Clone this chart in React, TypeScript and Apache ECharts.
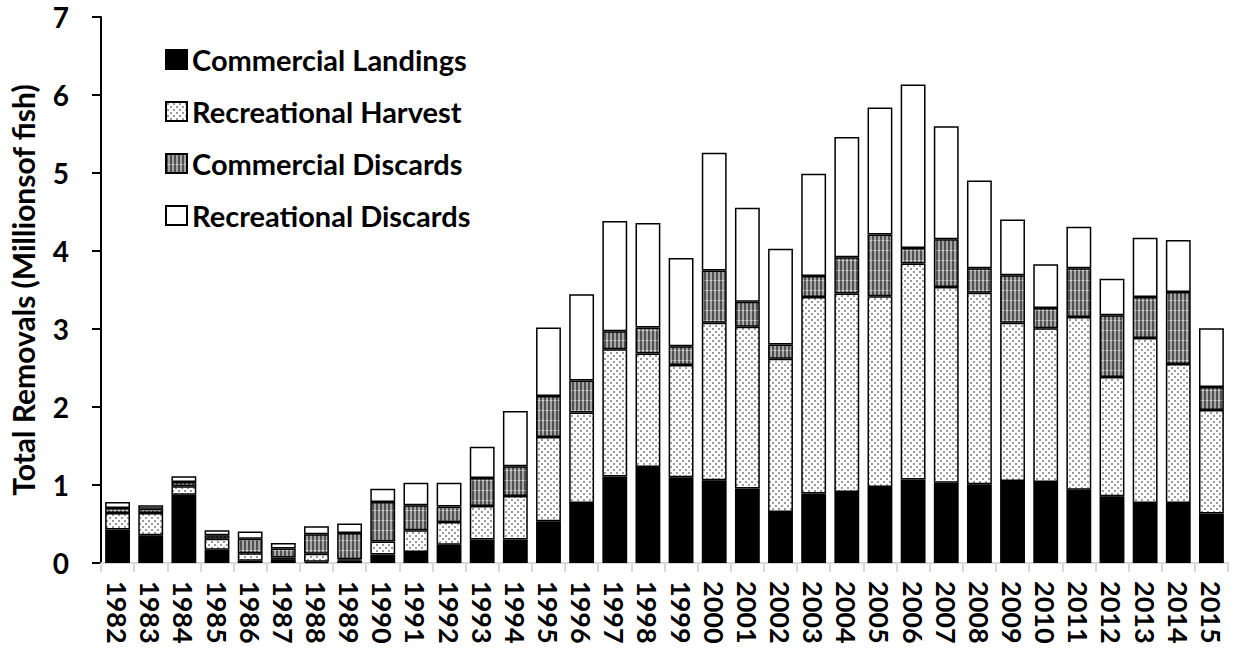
import React, { useEffect, useRef } from 'react';
import * as echarts from 'echarts';

const years = [
  '1982', '1983', '1984', '1985', '1986', '1987', '1988', '1989', '1990', '1991',
  '1992', '1993', '1994', '1995', '1996', '1997', '1998', '1999', '2000', '2001',
  '2002', '2003', '2004', '2005', '2006', '2007', '2008', '2009', '2010', '2011',
  '2012', '2013', '2014', '2015',
];

const commercialLandings = [
  0.43, 0.355, 0.876, 0.17, 0.03, 0.04, 0.015, 0.03, 0.11, 0.14,
  0.235, 0.30, 0.30, 0.535, 0.77, 1.11, 1.23, 1.10, 1.06, 0.955,
  0.655, 0.89, 0.91, 0.975, 1.07, 1.03, 1.01, 1.05, 1.04, 0.94,
  0.855, 0.77, 0.77, 0.635,
];

const recreationalHarvest = [
  0.21, 0.286, 0.107, 0.14, 0.095, 0.03, 0.105, 0.017, 0.167, 0.28,
  0.29, 0.43, 0.56, 1.08, 1.16, 1.63, 1.455, 1.44, 2.02, 2.075,
  1.965, 2.52, 2.545, 2.445, 2.77, 2.51, 2.455, 2.03, 1.97, 2.215,
  1.53, 2.115, 1.78, 1.325,
];

const commercialDiscards = [
  0.065, 0.056, 0.055, 0.045, 0.185, 0.115, 0.25, 0.338, 0.504, 0.32,
  0.20, 0.36, 0.38, 0.525, 0.41, 0.23, 0.335, 0.24, 0.67, 0.32,
  0.18, 0.27, 0.465, 0.79, 0.20, 0.61, 0.315, 0.61, 0.26, 0.625,
  0.79, 0.525, 0.925, 0.295,
];

const recreationalDiscards = [
  0.077, 0.042, 0.073, 0.064, 0.095, 0.07, 0.10, 0.12, 0.171, 0.29,
  0.305, 0.40, 0.71, 0.88, 1.105, 1.415, 1.34, 1.13, 1.51, 1.205,
  1.23, 1.31, 1.54, 1.63, 2.095, 1.45, 1.125, 0.715, 0.56, 0.53,
  0.47, 0.76, 0.665, 0.755,
];

const seriesNames = [
  'Commercial Landings',
  'Recreational Harvest',
  'Commercial Discards',
  'Recreational Discards',
];

const FONT = 'Lato, "Open Sans", sans-serif';

function makeDots(): HTMLCanvasElement {
  const c = document.createElement('canvas');
  c.width = 6;
  c.height = 6;
  const g = c.getContext('2d')!;
  g.fillStyle = '#ffffff';
  g.fillRect(0, 0, 6, 6);
  g.fillStyle = '#9a9a9a';
  g.fillRect(1, 1, 2, 2);
  g.fillRect(4, 4, 2, 2);
  return c;
}

function makeStripes(): HTMLCanvasElement {
  const c = document.createElement('canvas');
  c.width = 4;
  c.height = 10;
  const g = c.getContext('2d')!;
  g.fillStyle = '#4f4f4f';
  g.fillRect(0, 0, 2, 10);
  g.fillStyle = '#a6a6a6';
  g.fillRect(2, 0, 2, 10);
  g.fillStyle = '#8a8a8a';
  g.fillRect(0, 0, 2, 1);
  g.fillStyle = '#d0d0d0';
  g.fillRect(2, 0, 2, 1);
  return c;
}

export default function App() {
  const ref = useRef<HTMLDivElement>(null);

  useEffect(() => {
    if (!ref.current) return;
    const chart = echarts.init(ref.current, undefined, { renderer: 'svg' });
    const dots = makeDots();
    const stripes = makeStripes();

    const fills: any[] = [
      '#000000',
      { image: dots, repeat: 'repeat' },
      { image: stripes, repeat: 'repeat' },
      '#ffffff',
    ];
    const datasets = [commercialLandings, recreationalHarvest, commercialDiscards, recreationalDiscards];

    const option: any = {
      animation: false,
      backgroundColor: '#ffffff',
      grid: { left: 101, right: 8, top: 17, bottom: 85, containLabel: false },
      legend: {
        orient: 'vertical',
        left: 160,
        top: 40,
        itemWidth: 21,
        itemHeight: 19,
        itemGap: 23,
        selectedMode: false,
        icon: 'rect',
        textStyle: {
          fontFamily: FONT,
          fontWeight: 'bold',
          fontSize: 29,
          lineHeight: 28,
          color: '#000',
        },
        data: seriesNames,
      },
      xAxis: {
        type: 'category',
        data: years,
        axisLine: { show: true, lineStyle: { color: '#d9d9d9', width: 2 } },
        axisTick: { show: true, length: 9, lineStyle: { color: '#d9d9d9', width: 2 } },
        axisLabel: {
          interval: 0,
          rotate: -90,
          margin: 18,
          fontFamily: FONT,
          fontWeight: 'bold',
          fontSize: 27,
          color: '#000',
        },
      },
      yAxis: {
        type: 'value',
        min: 0,
        max: 7,
        interval: 1,
        name: 'Total Removals (Millionsof fish)',
        nameLocation: 'middle',
        nameGap: 63,
        nameRotate: 90,
        nameTextStyle: {
          fontFamily: FONT,
          fontWeight: 'bold',
          fontSize: 30,
          color: '#000',
        },
        axisLine: { show: true, lineStyle: { color: '#000', width: 2 } },
        axisTick: { show: true, length: 9, lineStyle: { color: '#000', width: 2 } },
        splitLine: { show: false },
        axisLabel: {
          margin: 32,
          fontFamily: FONT,
          fontWeight: 'bold',
          fontSize: 28,
          color: '#000',
        },
      },
      series: seriesNames.map((name, i) => ({
        name,
        type: 'bar',
        stack: 'total',
        barCategoryGap: '25%',
        data: datasets[i],
        itemStyle: {
          color: fills[i],
          borderColor: '#000',
          borderWidth: 1.5,
        },
        emphasis: { disabled: true },
      })),
    };

    chart.setOption(option);
    return () => chart.dispose();
  }, []);

  return (
    <div
      ref={ref}
      style={{ position: 'fixed', left: 0, top: 0, width: 1236, height: 648, background: '#fff' }}
    />
  );
}
